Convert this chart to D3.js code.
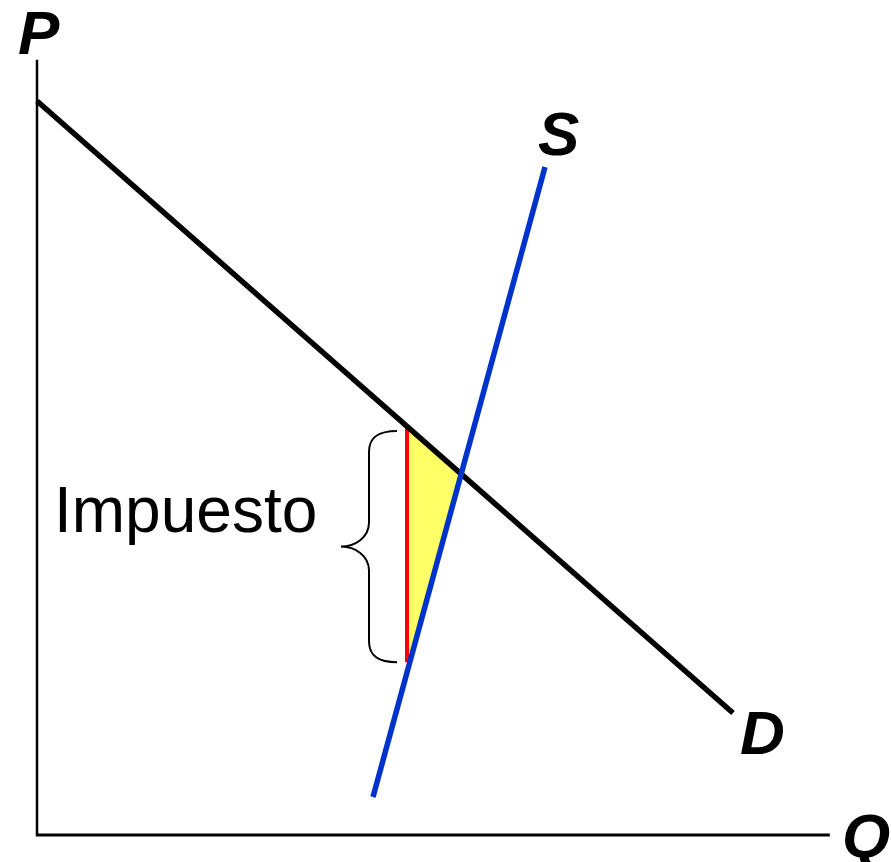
<!DOCTYPE html>
<html>
<head>
<meta charset="utf-8">
<script src="https://cdn.jsdelivr.net/npm/d3@7"></script>
<style>
  body { margin: 0; background: #fff; }
  .lbl { font-family: "Liberation Sans", Arial, sans-serif; font-weight: bold; font-style: italic; font-size: 62px; }
  .tax { font-family: "Liberation Sans", Arial, sans-serif; font-size: 64px; }
</style>
</head>
<body>
<div id="chart"></div>
<script>
// values (Q, P in 0..100 units)
const demand = [[0, 91.75], [87, 15.25]];
const supply = [[42, 4.75], [63.5, 83.5]];
const taxQ = 46.25;
const pBuyer = 51;
const pSeller = 21.6;
const axisMax = [99.1, 96.9];
const labels = ["P", "Q", "S", "D"];

const width = 891, height = 862;

const x = d3.scaleLinear().domain([0, 100]).range([37, 837]);
const y = d3.scaleLinear().domain([0, 100]).range([835, 35]);

const svg = d3.select("#chart").append("svg")
    .attr("width", width)
    .attr("height", height);

// equilibrium = where the two lines cross
function cross(a, b) {
    const m1 = (a[1][1] - a[0][1]) / (a[1][0] - a[0][0]);
    const m2 = (b[1][1] - b[0][1]) / (b[1][0] - b[0][0]);
    const q = (b[0][1] - a[0][1] + m1 * a[0][0] - m2 * b[0][0]) / (m1 - m2);
    return [q, a[0][1] + m1 * (q - a[0][0])];
}
const eq = cross(demand, supply);

const line = d3.line().x(d => x(d[0])).y(d => y(d[1]));

// deadweight triangle
svg.append("path")
    .attr("d", line([[taxQ, pBuyer], eq, [taxQ, pSeller]]) + "Z")
    .attr("fill", "#ffff66");

// axes
svg.append("line")
    .attr("x1", x(0)).attr("y1", y(0) + 1)
    .attr("x2", x(0)).attr("y2", y(axisMax[1]))
    .attr("stroke", "#000").attr("stroke-width", 2.5);
svg.append("line")
    .attr("x1", x(0) - 1).attr("y1", y(0))
    .attr("x2", x(axisMax[0])).attr("y2", y(0))
    .attr("stroke", "#000").attr("stroke-width", 3);

// tax wedge
svg.append("line")
    .attr("x1", x(taxQ)).attr("y1", y(pBuyer))
    .attr("x2", x(taxQ)).attr("y2", y(pSeller))
    .attr("stroke", "#ff0000").attr("stroke-width", 4);

svg.append("path")
    .attr("d", line(demand))
    .attr("stroke", "#000").attr("stroke-width", 5.5).attr("fill", "none");

svg.append("path")
    .attr("d", line(supply))
    .attr("stroke", "#0033cc").attr("stroke-width", 5.5).attr("fill", "none");

// brace
const bx = x(taxQ) - 10, bTop = y(pBuyer) + 4, bBot = y(pSeller);
const mid = (bTop + bBot) / 2;
svg.append("path")
    .attr("d", `M${bx},${bTop} C${bx - 17},${bTop} ${bx - 28},${bTop + 5} ${bx - 28},${bTop + 21}
        L${bx - 28},${mid - 24} C${bx - 28},${mid - 9} ${bx - 42},${mid} ${bx - 56},${mid}
        C${bx - 42},${mid} ${bx - 28},${mid + 9} ${bx - 28},${mid + 24}
        L${bx - 28},${bBot - 21} C${bx - 28},${bBot - 5} ${bx - 17},${bBot} ${bx},${bBot}`)
    .attr("stroke", "#000").attr("stroke-width", 2).attr("fill", "none");

svg.append("text").attr("class", "tax")
    .attr("x", 54).attr("y", 532)
    .text("Impuesto");

// curve & axis labels
svg.append("text").attr("class", "lbl").attr("x", 18).attr("y", 54).text(labels[0]);
svg.append("text").attr("class", "lbl").attr("x", 842).attr("y", 857).text(labels[1]);
svg.append("text").attr("class", "lbl").attr("x", 538).attr("y", 155).text(labels[2]);
svg.append("text").attr("class", "lbl").attr("x", 740).attr("y", 754).text(labels[3]);
</script>
</body>
</html>
